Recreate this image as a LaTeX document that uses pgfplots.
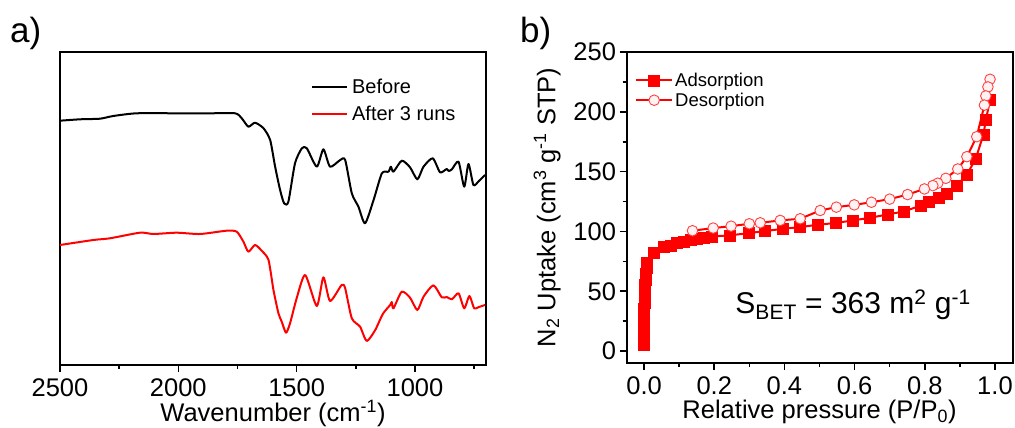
\documentclass[border=0pt]{standalone}
\usepackage{pgfplots}
\pgfplotsset{compat=1.18}
\usepackage{fontspec}
\setmainfont{Liberation Sans}

\begin{document}
\begin{tikzpicture}[x=1pt,y=1pt]
\useasboundingbox (0pt,0pt) rectangle (1015pt,428pt);
\pgfplotsset{
  every axis/.append style={
    scale only axis,
    axis line style={line width=2pt},
    tick style={line width=1.6pt, black},
    major tick length=7pt,
    minor tick length=4pt,
    tick align=outside,
    xticklabel shift=3pt,
    /pgf/number format/assume math mode=true,
    tick label style={font=\fontsize{25.5}{30}\selectfont},
    label style={font=\fontsize{25.5}{30}\selectfont},
  }
}

% a) FTIR
\begin{axis}[
  at={(60pt,63pt)}, anchor=south west,
  width=426pt, height=313pt,
  x dir=reverse, xmin=700, xmax=2500, ymin=0, ymax=313,
  xtick={1000,1500,2000,2500}, minor xtick={750,1250,1750,2250},
  ytick=\empty, xtick pos=left,
  /pgf/number format/1000 sep={},
  xlabel={Wavenumber (cm\textsuperscript{-1})},
  xlabel shift=-3pt,
  legend style={draw=none, fill=none, at={(0.589,0.921)}, anchor=north west,
    font=\fontsize{20}{24}\selectfont, inner sep=0pt, row sep=7.6pt,
    nodes={inner xsep=4pt, inner ysep=2pt}},
  legend cell align=left,
  legend image code/.code={\draw[#1] (0pt,0pt) -- (35pt,0pt);},
]
\addplot[black, line width=2pt, line join=round, smooth, tension=0.4] coordinates {
(2500,244.3) (2415,245.7) (2331,246.3) (2275,249) (2176,251.7) (2007,251.7)
(1866,251.7) (1760,251.7) (1732,246.7) (1704,238.3) (1676,242.3) (1640,236.7)
(1612,225) (1591,198.3) (1570,175) (1553,161.7) (1535,163.3) (1507,201.7)
(1478,216.7) (1457,216.7) (1415,198.3) (1387,215.7) (1359,198.3) (1316,205)
(1295,205) (1267,171.7) (1239,158.3) (1211,141.7) (1175,165) (1140,191.7)
(1112,193.3) (1102,198.3) (1091,193.3) (1056,204.3) (1021,197.7) (990,185.7)
(964,198.3) (925,206.7) (894,192.7) (866,196) (858,194) (844,195.7) (816,203.3)
(792,178.3) (774,201) (753,180) (730,184) (704,190)
};
\addplot[red, line width=2pt, line join=round, smooth, tension=0.4] coordinates {
(2500,120) (2359,125) (2289,126.7) (2162,132.3) (2105,131) (2007,132.3)
(1908,131) (1796,134.3) (1753,133.3) (1725,123.3) (1704,113.3) (1676,120)
(1648,114.3) (1619,105) (1598,75) (1577,51.7) (1563,43.3) (1545,32.3)
(1528,41.7) (1500,66.7) (1464,90) (1415,59) (1387,87.7) (1359,64)
(1310,80) (1295,76.7) (1267,46.7) (1232,38.3) (1204,24) (1168,35)
(1136,51) (1105,60) (1098,63) (1091,56.7) (1056,73.3) (1021,67.3)
(990,55) (964,68.3) (922,79.7) (887,67.7) (866,68) (844,65.7) (816,71.7)
(792,56.7) (770,69) (750,56.7) (730,58) (704,60)
};
\legend{Before, After 3 runs}
\end{axis}

% b) N2 isotherm
\begin{axis}[
  at={(626.5pt,65pt)}, anchor=south west,
  width=386pt, height=311pt,
  xmin=-0.05, xmax=1.05, ymin=-10, ymax=250,
  xtick={0,0.2,0.4,0.6,0.8,1.0}, minor x tick num=1,
  ytick={0,50,100,150,200,250}, minor y tick num=1,
  xtick pos=left, ytick pos=left,
  xticklabel style={/pgf/number format/.cd, fixed, fixed zerofill, precision=1},
  xlabel={Relative pressure (P/P\textsubscript{0})},
  xlabel shift=-1pt,
  ylabel={N\textsubscript{2} Uptake (cm\textsuperscript{3} g\textsuperscript{-1} STP)},
  ylabel shift=6pt,
  legend style={draw=none, fill=none, at={(0.022,0.94)}, anchor=north west,
    font=\fontsize{18.5}{22}\selectfont, inner sep=0pt, row sep=1pt,
    nodes={inner sep=2pt}},
  legend cell align=left,
  legend image code/.code={\draw[mark repeat=2, mark phase=2, #1]
    plot coordinates {(0pt,0pt) (18pt,0pt) (36pt,0pt)};},
]
\addplot[red, line width=2pt, mark=square*, mark size=5.5pt,
  mark options={solid, fill=red, draw=red, line width=0.5pt}] coordinates {
(0.0,5) (0.0,10) (0.0,15) (0.0,20) (0.0,25) (0.0,30) (0.0005,35) (0.001,40)
(0.0015,45) (0.002,50) (0.003,55) (0.004,60) (0.005,65) (0.007,70) (0.009,74)
(0.027,82) (0.056,86.9) (0.075,88.3) (0.094,90.3) (0.113,91.7) (0.132,93.1)
(0.151,93.9) (0.170,94.7) (0.194,95.8) (0.245,96.7) (0.298,98.6) (0.345,100.3)
(0.396,102.2) (0.445,103.6) (0.495,105.6) (0.545,107) (0.595,109.2)
(0.644,111.4) (0.694,114.2) (0.741,116.7) (0.789,121.7) (0.812,124.4)
(0.839,127.8) (0.863,131.9) (0.891,138.3) (0.920,147.5) (0.945,160.6)
(0.967,180.8) (0.974,193.3) (0.986,209.7)
};
\addplot[red, line width=2pt, mark=*, mark size=5.3pt,
  mark options={solid, fill=red!5, draw=red!75, line width=0.9pt}] coordinates {
(0.986,227.2) (0.980,220.8) (0.974,213.3) (0.970,205.6) (0.948,179.2)
(0.920,162.5) (0.894,152.2) (0.860,144.4) (0.837,140.3) (0.823,138.3)
(0.799,135.5) (0.751,130.8) (0.700,127) (0.648,124.4) (0.599,122.2)
(0.548,120.3) (0.502,117.5) (0.445,110.6) (0.388,109.2) (0.331,107.2)
(0.300,106.4) (0.248,104.4) (0.197,102.8) (0.138,100.6)
};
\legend{Adsorption, Desorption}
\node[anchor=base west, font=\fontsize{30}{36}\selectfont, inner sep=0pt]
  at (axis cs:0.26,31) {S\textsubscript{BET} = 363 m\textsuperscript{2} g\textsuperscript{-1}};
\end{axis}

\node[anchor=base west, font=\fontsize{35}{40}\selectfont, inner sep=0pt] at (10pt,385pt) {a)};
\node[anchor=base west, font=\fontsize{35}{40}\selectfont, inner sep=0pt] at (520pt,385pt) {b)};
\end{tikzpicture}
\end{document}
